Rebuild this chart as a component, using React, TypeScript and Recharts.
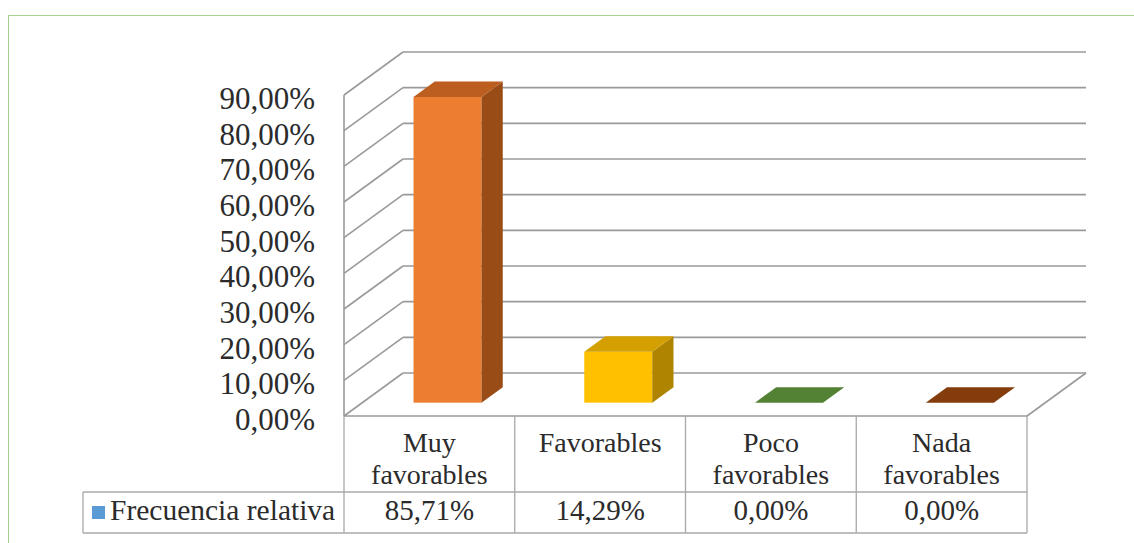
import React from 'react';
import { BarChart, Bar, XAxis, YAxis, CartesianGrid, Cell } from 'recharts';

// ---- data ----
const categories = ['Muy favorables', 'Favorables', 'Poco favorables', 'Nada favorables'];
const relativeFrequency = [0.8571, 0.1429, 0, 0];
const seriesName = 'Frecuencia relativa';
const yTicks = [0, 0.1, 0.2, 0.3, 0.4, 0.5, 0.6, 0.7, 0.8, 0.9];

// ---- styles ----
const frontColors = ['#ED7D31', '#FFC000', '#70AD47', '#9E480E'];
const topColors = ['#BB5E1F', '#D4A000', '#548235', '#843C0C'];
const sideColors = ['#9A4C17', '#AE8400', '#3F6428', '#6A300A'];
const legendColor = '#5B9BD5';

const data = categories.map((c, i) => ({ category: c, value: relativeFrequency[i] }));

const DX = 59;
const DY = -43;
const BAR_FRONT = 0.31;
const BAR_BACK = 0.67;
const FONT = '"Liberation Serif", "Times New Roman", serif';
const TEXT = '#2b2b2b';
const GRID = '#9a9a9a';
const TABLE = '#a8a8a8';

const TABLE_TOP = 416;
const TABLE_MID = 492;
const TABLE_BOTTOM = 533;
const LEGEND_LEFT = 83;

const pct = (v: number) => (v * 100).toFixed(2).replace('.', ',') + '%';

const Bar3D = (props: any) => {
  const { x, y, width, height, index } = props;
  const fx = x + DX * BAR_FRONT;
  const fy = y + DY * BAR_FRONT;
  const ddx = DX * (BAR_BACK - BAR_FRONT);
  const ddy = DY * (BAR_BACK - BAR_FRONT);
  const h = Math.max(0, height || 0);
  return (
    <g>
      {h > 0 && <rect x={fx} y={fy} width={width} height={h} fill={frontColors[index]} />}
      {h > 0 && (
        <polygon
          points={`${fx + width},${fy} ${fx + width + ddx},${fy + ddy} ${fx + width + ddx},${fy + h + ddy} ${fx + width},${fy + h}`}
          fill={sideColors[index]}
        />
      )}
      <polygon
        points={`${fx},${fy} ${fx + ddx},${fy + ddy} ${fx + width + ddx},${fy + ddy} ${fx + width},${fy}`}
        fill={topColors[index]}
      />
    </g>
  );
};

const gridLine = (p: any) => {
  const { x1, y1, x2, index } = p;
  return (
    <g key={`grid-${index}-${y1}`}>
      <line x1={x1} y1={y1} x2={x1 + DX} y2={y1 + DY} stroke={GRID} strokeWidth={1.6} />
      <line x1={x1 + DX} y1={y1 + DY} x2={x2 + DX} y2={y1 + DY} stroke={GRID} strokeWidth={1.6} />
    </g>
  );
};

const YTick = (p: any) => (
  <text
    x={315}
    y={p.y + 14}
    textAnchor="end"
    fontFamily={FONT}
    fontSize={31}
    fill={TEXT}
  >
    {pct(p.payload.value)}
  </text>
);

const TableTick = (p: any) => {
  const { x, index, payload } = p;
  const n = p.visibleTicksCount || categories.length;
  let band = 170.75;
  if (payload && typeof payload.offset === 'number' && payload.offset > 0) band = payload.offset * 2;
  else if (typeof p.width === 'number' && p.width > 100) band = p.width / n;
  const left = x - band / 2;
  const right = x + band / 2;
  const lines = String(payload.value).split(' ');
  const isLast = index === categories.length - 1;
  return (
    <g>
      {index === 0 && (
        <g>
          <line x1={left} y1={TABLE_TOP} x2={left} y2={TABLE_BOTTOM} stroke={TABLE} strokeWidth={1.3} />
          <line x1={LEGEND_LEFT} y1={TABLE_MID} x2={left} y2={TABLE_MID} stroke={TABLE} strokeWidth={1.3} />
          <line x1={LEGEND_LEFT} y1={TABLE_BOTTOM} x2={left} y2={TABLE_BOTTOM} stroke={TABLE} strokeWidth={1.3} />
          <line x1={LEGEND_LEFT} y1={TABLE_MID} x2={LEGEND_LEFT} y2={TABLE_BOTTOM} stroke={TABLE} strokeWidth={1.3} />
          <rect x={92} y={506} width={13} height={13} fill={legendColor} />
          <text x={110} y={520} fontFamily={FONT} fontSize={29.5} fill={TEXT}>
            {seriesName}
          </text>
        </g>
      )}
      <line x1={right} y1={TABLE_TOP} x2={right} y2={TABLE_BOTTOM} stroke={TABLE} strokeWidth={1.3} />
      <line x1={left} y1={TABLE_MID} x2={right} y2={TABLE_MID} stroke={TABLE} strokeWidth={1.3} />
      <line x1={left} y1={TABLE_BOTTOM} x2={right} y2={TABLE_BOTTOM} stroke={TABLE} strokeWidth={1.3} />
      {isLast && (
        <line x1={right} y1={TABLE_TOP} x2={right + DX} y2={TABLE_TOP + DY} stroke={GRID} strokeWidth={1.6} />
      )}
      {lines.map((ln, i) => (
        <text
          key={i}
          x={x}
          y={452 + i * 32}
          textAnchor="middle"
          fontFamily={FONT}
          fontSize={28}
          fill={TEXT}
        >
          {ln}
        </text>
      ))}
      <text x={x} y={520} textAnchor="middle" fontFamily={FONT} fontSize={29} fill={TEXT}>
        {pct(relativeFrequency[index])}
      </text>
    </g>
  );
};

export default function App() {
  return (
    <div style={{ position: 'absolute', left: 0, top: 0, width: 1134, height: 543, overflow: 'hidden', background: '#ffffff' }}>
      <div
        style={{
          position: 'absolute',
          left: 8,
          top: 15,
          width: 1200,
          height: 600,
          borderTop: '1.5px solid #A9CF8C',
          borderLeft: '1.5px solid #A9CF8C',
        }}
      />
      <div style={{ position: 'absolute', left: 0, top: 0 }}>
        <BarChart
          width={1134}
          height={543}
          data={data}
          margin={{ top: 95, right: 107, bottom: 10, left: 244 }}
          barCategoryGap="30%"
        >
          <CartesianGrid vertical={false} horizontal={gridLine} />
          <YAxis
            type="number"
            domain={[0, 0.9]}
            ticks={yTicks}
            width={100}
            axisLine={{ stroke: GRID, strokeWidth: 1.6 }}
            tickLine={false}
            tick={YTick}
            interval={0}
          />
          <XAxis
            dataKey="category"
            height={117}
            axisLine={{ stroke: GRID, strokeWidth: 1.6 }}
            tickLine={false}
            tick={TableTick}
            interval={0}
          />
          <Bar dataKey="value" name={seriesName} isAnimationActive={false} shape={Bar3D}>
            {data.map((d, i) => (
              <Cell key={d.category} fill={frontColors[i]} />
            ))}
          </Bar>
        </BarChart>
      </div>
    </div>
  );
}
